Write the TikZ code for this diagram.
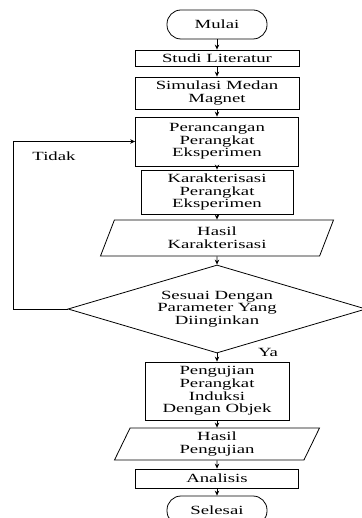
\documentclass[tikz,border=0pt]{standalone}
\usepackage{fontspec}
\setmainfont{Liberation Serif}[FakeStretch=1.5]
\usetikzlibrary{arrows.meta,shapes.geometric}

\begin{document}
\begin{tikzpicture}[x=1pt,y=-1pt,line width=0.8pt,
  font=\fontsize{12.5}{12.6}\selectfont,
  terminal/.style={draw,rectangle,rounded corners=14pt,minimum width=100pt,minimum height=29pt,inner sep=0pt},
  proses/.style={draw,rectangle,align=center,inner sep=0pt},
  data/.style={draw,trapezium,trapezium left angle=57,trapezium right angle=123,trapezium stretches body,align=center,inner sep=0pt},
  keputusan/.style={draw,diamond,aspect=3.3,align=center,inner sep=0pt},
  panah/.style={-{Stealth[length=5pt,width=4.5pt]}}]
\useasboundingbox (0,0) rectangle (361,518);
% alur utama
\node[terminal] (mulai) at (217,24.5) {Mulai};
\node[proses,minimum width=164pt,minimum height=16pt] (studi) at (217,58) {Studi Literatur};
\node[proses,minimum width=164pt,minimum height=32pt] (simulasi) at (217,93) {Simulasi Medan\\Magnet};
\node[proses,minimum width=163pt,minimum height=49pt] (rancang) at (217,141.5) {Perancangan\\Perangkat\\Eksperimen};
\node[proses,minimum width=152pt,minimum height=44pt] (karakter) at (217,192) {Karakterisasi\\Perangkat\\Eksperimen};
\node[data,minimum width=233pt,minimum height=36pt] (hasilk) at (217,238) {Hasil\\Karakterisasi};
\node[keputusan,minimum width=298pt,minimum height=88pt] (sesuai) at (217,309) {Sesuai Dengan\\Parameter Yang\\Diinginkan};
\node[proses,minimum width=144pt,minimum height=58pt] (uji) at (217,391) {Pengujian\\Perangkat\\Induksi\\Dengan Objek};
\node[data,minimum width=205pt,minimum height=32pt] (hasilu) at (217,444) {Hasil\\Pengujian};
\node[proses,minimum width=163pt,minimum height=19pt] (analisis) at (217,478.5) {Analisis};
\node[terminal] (selesai) at (217,510.5) {Selesai};

\draw[panah] (mulai) -- (studi);
\draw[panah] (studi) -- (simulasi);
\draw[panah] (simulasi) -- (rancang);
\draw[panah] (rancang) -- (karakter);
\draw[panah] (karakter) -- (hasilk);
\draw[panah] (hasilk) -- (sesuai);
\draw[panah] (sesuai) -- (uji);
\draw[panah] (uji) -- (hasilu);
\draw[panah] (hasilu) -- (analisis);
\draw[panah] (analisis) -- (selesai);

% umpan balik
\coordinate (balik) at (13,309);
\draw[panah] (sesuai.west) -- (balik) |- (rancang.west);
\node (tidak) at (54,156) {Tidak};
\node (ya) at (268,352) {Ya};
\end{tikzpicture}
\end{document}
